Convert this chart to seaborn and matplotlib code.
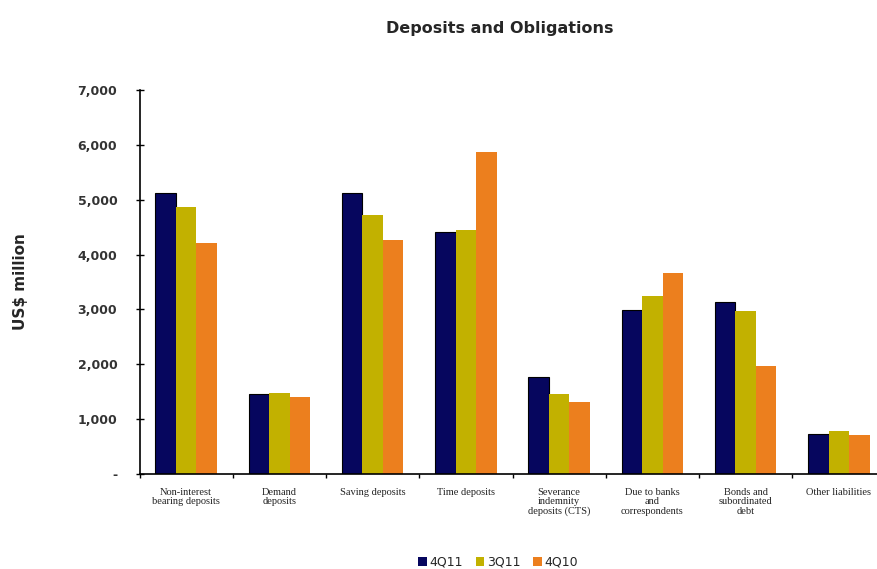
import matplotlib
matplotlib.use("Agg")
import matplotlib.pyplot as plt
import seaborn as sns
import pandas as pd
from matplotlib.ticker import FixedLocator, FuncFormatter
from matplotlib.patches import Patch

categories = ["Non-interest\nbearing deposits", "Demand\ndeposits", "Saving deposits",
              "Time deposits", "Severance\nindemnity\ndeposits (CTS)", "Due to banks\nand\ncorrespondents",
              "Bonds and\nsubordinated\ndebt", "Other liabilities"]
series = ["4Q11", "3Q11", "4Q10"]
v_4q11 = [5120, 1450, 5120, 4415, 1775, 2990, 3140, 730]
v_3q11 = [4860, 1470, 4715, 4445, 1460, 3250, 2970, 790]
v_4q10 = [4215, 1400, 4265, 5875, 1320, 3655, 1970, 710]
colors = ["#06065e", "#c2b100", "#ec7f1e"]

rows = []
for s, vals in zip(series, [v_4q11, v_3q11, v_4q10]):
    for c, v in zip(categories, vals):
        rows.append({"category": c, "series": s, "value": v})
df = pd.DataFrame(rows)

sns.set_theme(style="white")
plt.rcParams['font.family'] = ['DejaVu Sans']

fig = plt.figure(figsize=(8.77, 5.69), dpi=100)
ax = fig.add_axes([139.5/877, 95/569, 746/877, 384/569])

sns.barplot(data=df, x="category", y="value", hue="series", palette=colors,
            order=categories, hue_order=series, width=0.66, gap=0, ax=ax,
            legend=False, saturation=1)

for p in ax.patches:
    p.set_linewidth(0)
for p in ax.containers[0]:
    p.set_edgecolor("#000000")
    p.set_linewidth(0.8)

ax.set_ylim(0, 7000)
ax.set_xlim(-0.5, len(categories) - 0.5)
ax.yaxis.set_major_locator(FixedLocator(list(range(0, 7001, 1000))))
ax.yaxis.set_major_formatter(FuncFormatter(lambda v, p: "-" if v == 0 else f"{int(v):,}"))
ax.tick_params(axis="y", which="major", direction="inout", length=6, width=1, color="black",
               labelsize=9, pad=13, left=True)
for lbl in ax.get_yticklabels():
    lbl.set_fontweight("bold")
    lbl.set_color("#333333")

ax.set_xticks(range(len(categories)))
ax.set_xticklabels(categories, fontsize=7.5, family="Liberation Serif", color="#222222",
                   linespacing=1.05, va="top")
ax.tick_params(axis="x", which="major", length=0, pad=10)
ax.set_xticks([i + 0.5 for i in range(-1, len(categories))], minor=True)
ax.tick_params(axis="x", which="minor", direction="out", length=3, width=1, color="black", bottom=True)

for side in ["top", "right"]:
    ax.spines[side].set_visible(False)
for side in ["left", "bottom"]:
    ax.spines[side].set_color("black")
    ax.spines[side].set_linewidth(1.2)

ax.set_xlabel("")
ax.set_ylabel("US$ million", fontsize=11, fontweight="bold", labelpad=36)
ax.grid(False)

fig.text(0.57, 1 - 28/569, "Deposits and Obligations", ha="center", va="center",
         fontsize=11.5, fontweight="bold")

handles = [Patch(facecolor=c, edgecolor="none", label=s) for s, c in zip(series, colors)]
fig.legend(handles=handles, loc="center", bbox_to_anchor=(498/877, 1 - 562/569), ncol=3,
           frameon=False, fontsize=9, handlelength=0.7, handleheight=0.7,
           handletextpad=0.2, columnspacing=1.0)

fig.savefig("out.png", dpi=100)
